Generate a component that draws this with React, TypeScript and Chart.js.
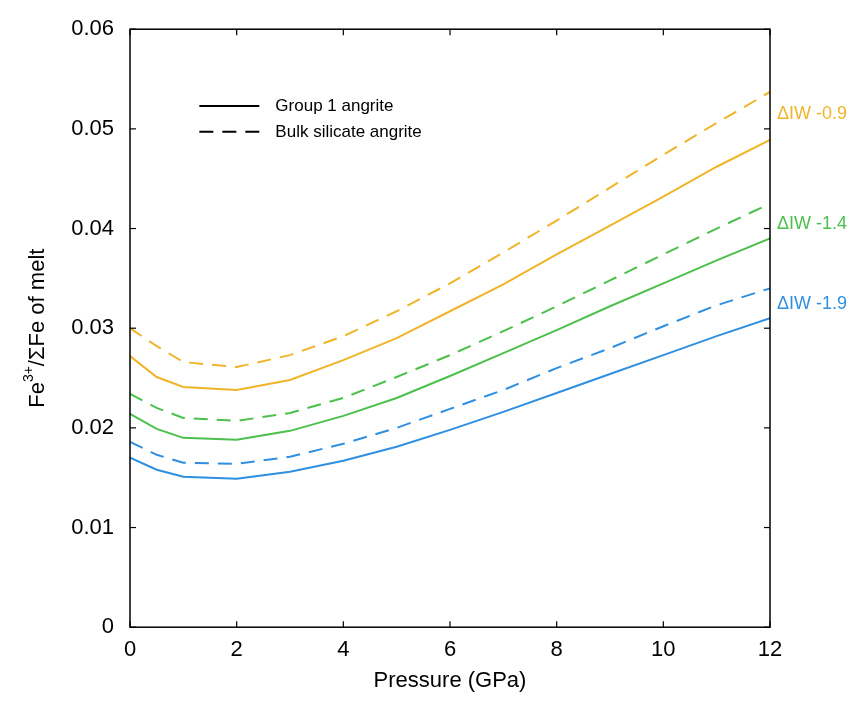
import React, { useEffect, useRef } from "react";
import { Chart, registerables } from "chart.js";
Chart.register(...registerables);

const pressure = [0, 0.5, 1, 2, 3, 4, 5, 6, 7, 8, 9, 10, 11, 12];
const y09Solid = [0.0272, 0.0251, 0.0241, 0.0238, 0.0248, 0.0268, 0.029, 0.0317, 0.0344, 0.0374, 0.0403, 0.0432, 0.0462, 0.0489];
const y09Dash = [0.030, 0.0282, 0.0266, 0.0261, 0.0273, 0.0292, 0.0317, 0.0345, 0.0376, 0.0408, 0.0441, 0.0474, 0.0506, 0.0537];
const y14Solid = [0.0214, 0.0199, 0.019, 0.0188, 0.0197, 0.0212, 0.023, 0.0252, 0.0275, 0.0298, 0.0322, 0.0345, 0.0368, 0.039];
const y14Dash = [0.0234, 0.022, 0.021, 0.0207, 0.0215, 0.023, 0.0251, 0.0273, 0.0297, 0.0322, 0.0348, 0.0374, 0.04, 0.0425];
const y19Solid = [0.017, 0.0158, 0.0151, 0.0149, 0.0156, 0.0167, 0.0181, 0.0198, 0.0216, 0.0235, 0.0254, 0.0273, 0.0292, 0.031];
const y19Dash = [0.0186, 0.0173, 0.0165, 0.0164, 0.0171, 0.0184, 0.02, 0.0219, 0.0238, 0.026, 0.028, 0.0302, 0.0323, 0.034];
const seriesLabels = ["ΔIW -0.9", "ΔIW -1.4", "ΔIW -1.9"];
const seriesEnds = [0.0515, 0.0405, 0.0324];
const colors = ["#f0b429", "#4cc04c", "#2f8fe0"];
const legendLabels = ["Group 1 angrite", "Bulk silicate angrite"];

const FONT = "Arial, 'Liberation Sans', sans-serif";

export default function App() {
  const ref = useRef<HTMLCanvasElement>(null);
  useEffect(() => {
    const mk = (d: number[], c: string, dash: boolean) => ({
      data: pressure.map((x, i) => ({ x, y: d[i] })),
      borderColor: c, borderWidth: 2, pointRadius: 0, tension: 0,
      borderDash: dash ? [14, 9] : [],
    });
    const overlay = {
      id: "overlay",
      afterDraw(chart: any) {
        const { ctx, chartArea: a, scales } = chart;
        ctx.save();
        ctx.strokeStyle = "#000"; ctx.lineWidth = 1.5;
        ctx.strokeRect(a.left, a.top, a.right - a.left, a.bottom - a.top);
        ctx.lineWidth = 1.2;
        for (let v = 0; v <= 12; v += 2) {
          const x = scales.x.getPixelForValue(v);
          ctx.beginPath(); ctx.moveTo(x, a.bottom); ctx.lineTo(x, a.bottom - 6); ctx.stroke();
          ctx.beginPath(); ctx.moveTo(x, a.top); ctx.lineTo(x, a.top + 6); ctx.stroke();
        }
        for (let v = 0; v <= 0.0601; v += 0.01) {
          const y = scales.y.getPixelForValue(v);
          ctx.beginPath(); ctx.moveTo(a.left, y); ctx.lineTo(a.left + 6, y); ctx.stroke();
          ctx.beginPath(); ctx.moveTo(a.right, y); ctx.lineTo(a.right - 6, y); ctx.stroke();
        }
        ctx.font = `18px ${FONT}`; ctx.textBaseline = "middle"; ctx.textAlign = "left";
        seriesLabels.forEach((l, i) => {
          ctx.fillStyle = colors[i];
          ctx.fillText(l, a.right + 7, scales.y.getPixelForValue(seriesEnds[i]));
        });
        ctx.fillStyle = "#000"; ctx.strokeStyle = "#000"; ctx.lineWidth = 2;
        const lx = scales.x.getPixelForValue(1.3), ly1 = scales.y.getPixelForValue(0.0523), ly2 = scales.y.getPixelForValue(0.0497);
        ctx.beginPath(); ctx.moveTo(lx, ly1); ctx.lineTo(lx + 60, ly1); ctx.stroke();
        ctx.setLineDash([14, 9]);
        ctx.beginPath(); ctx.moveTo(lx, ly2); ctx.lineTo(lx + 60, ly2); ctx.stroke();
        ctx.setLineDash([]);
        ctx.font = `17px ${FONT}`;
        ctx.fillText(legendLabels[0], lx + 76, ly1);
        ctx.fillText(legendLabels[1], lx + 76, ly2);
        ctx.restore();
      },
    };
    const chart = new Chart(ref.current!, {
      type: "line",
      data: {
        datasets: [
          mk(y09Dash, colors[0], true), mk(y09Solid, colors[0], false),
          mk(y14Dash, colors[1], true), mk(y14Solid, colors[1], false),
          mk(y19Dash, colors[2], true), mk(y19Solid, colors[2], false),
        ] as any,
      },
      options: {
        animation: false, responsive: false,
        layout: { padding: { top: 0, right: 80, left: 0, bottom: 6 } },
        plugins: { legend: { display: false }, tooltip: { enabled: false } },
        scales: {
          x: {
            type: "linear", min: 0, max: 12,
            ticks: { stepSize: 2, color: "#000", font: { size: 22, family: FONT }, padding: 2 },
            grid: { display: false }, border: { display: false },
            title: { display: true, text: "Pressure (GPa)", color: "#000", font: { size: 22, family: FONT }, padding: 2 },
          },
          y: {
            min: 0, max: 0.06,
            ticks: { stepSize: 0.01, color: "#000", font: { size: 22, family: FONT }, padding: 8,
              callback: (v: any) => (v === 0 ? "0" : Number(v).toFixed(2)) },
            grid: { display: false }, border: { display: false },
            title: { display: false },
            afterFit: (s: any) => { s.width = 122; },
          },
        },
      },
      plugins: [overlay, {
        id: "ytitle",
        afterDraw(chart: any) {
          const { ctx, chartArea: a } = chart;
          ctx.save();
          ctx.translate(30, (a.top + a.bottom) / 2);
          ctx.rotate(-Math.PI / 2);
          ctx.fillStyle = "#000"; ctx.textBaseline = "middle";
          const parts: [string, number, number][] = [["Fe", 22, 0], ["3+", 14, -9], ["/ΣFe of melt", 22, 0]];
          let w = 0;
          parts.forEach(([t, s]) => { ctx.font = `${s}px ${FONT}`; w += ctx.measureText(t).width; });
          let x = -w / 2;
          parts.forEach(([t, s, dy]) => { ctx.font = `${s}px ${FONT}`; ctx.fillText(t, x, dy); x += ctx.measureText(t).width; });
          ctx.restore();
        },
      }],
    });
    return () => chart.destroy();
  }, []);
  return <canvas ref={ref} width={842} height={694} style={{ display: "block" }} />;
}
